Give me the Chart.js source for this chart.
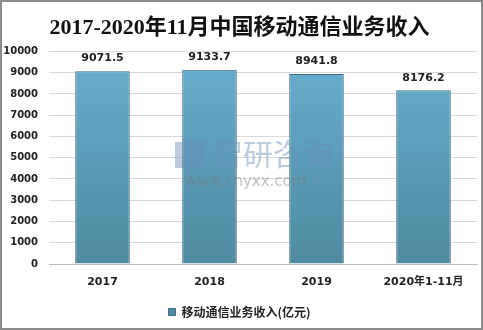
<!DOCTYPE html>
<html><head><meta charset="utf-8">
<script src="https://cdn.jsdelivr.net/npm/chart.js@4"></script>
<style>
html,body{margin:0;padding:0;background:#fff;}
#wrap{position:relative;width:479px;height:326px;border:2px solid #8c8c8c;}
canvas{display:block;}
</style></head><body>
<div id="wrap"><canvas id="c" width="479" height="326"></canvas></div>
<script>
const titleText = '2017-2020年11月中国移动通信业务收入';
const categories = ['2017', '2018', '2019', '2020年1-11月'];
const revenue = [9071.5, 9133.7, 8941.8, 8176.2];
const seriesName = '移动通信业务收入(亿元)';
const yTicks = [0,1000,2000,3000,4000,5000,6000,7000,8000,9000,10000];

const labelPlugin = {
  id: 'labels',
  afterDatasetsDraw(chart) {
    const ctx = chart.ctx;
    const meta = chart.getDatasetMeta(0);
    ctx.save();
    ctx.font = 'bold 11px "DejaVu Sans", sans-serif';
    ctx.fillStyle = '#222';
    ctx.textAlign = 'center';
    ctx.textBaseline = 'bottom';
    meta.data.forEach((bar, i) => {
      ctx.fillText(revenue[i].toFixed(1), bar.x, bar.y - 7);
    });
    ctx.restore();
  }
};
const watermark = {
  id: 'wm',
  afterDatasetsDraw(chart) {
    const ctx = chart.ctx;
    const a = chart.chartArea;
    const cx = (a.left + a.right) / 2;
    ctx.save();
    ctx.globalAlpha = 0.45;
    ctx.fillStyle = '#6a8fb8';
    ctx.font = '30px "Noto Sans CJK SC", sans-serif';
    ctx.textAlign = 'left';
    ctx.textBaseline = 'middle';
    ctx.fillText('智研咨询', cx - 50, 152);
    ctx.fillRect(cx - 88, 140, 30, 26);
    ctx.fillStyle = '#777';
    ctx.font = '15px "DejaVu Sans", sans-serif';
    ctx.fillText('www.chyxx.com', cx - 78, 180);
    ctx.restore();
  }
};

new Chart(document.getElementById('c'), {
  type: 'bar',
  data: {
    labels: categories,
    datasets: [{
      label: seriesName,
      data: revenue,
      backgroundColor: (c) => {
        const a = c.chart.chartArea;
        if (!a) return '#5b9dbd';
        const g = c.chart.ctx.createLinearGradient(0, a.top, 0, a.bottom);
        g.addColorStop(0, '#69aed0');
        g.addColorStop(1, '#4f8aa0');
        return g;
      },
      borderColor: '#3c6a80',
      borderWidth: 1,
      barPercentage: 0.51,
      categoryPercentage: 1.0
    }]
  },
  options: {
    responsive: false,
    animation: false,
    layout: { padding: { left: 0, right: 4, top: 0, bottom: 0 } },
    plugins: {
      title: {
        display: true, text: titleText, color: '#111',
        font: { family: '"Liberation Serif", "Noto Sans CJK SC", serif', size: 22, weight: 'bold' },
        padding: { top: 13, bottom: 10 }
      },
      legend: {
        position: 'bottom',
        labels: {
          color: '#222', boxWidth: 7, boxHeight: 7,
          font: { family: '"Noto Sans CJK SC", sans-serif', size: 12, weight: 'bold' },
          padding: 1
        }
      },
      tooltip: { enabled: false }
    },
    scales: {
      x: {
        afterFit: (s) => { s.height = 41; },
        grid: { display: false, drawTicks: false },
        border: { color: '#bfbfbf' },
        ticks: { color: '#222', padding: 12, font: { family: '"DejaVu Sans", "Noto Sans CJK SC", sans-serif', size: 11, weight: 'bold' } }
      },
      y: {
        min: 0, max: 10000,
        afterBuildTicks: (s) => { s.ticks = yTicks.map(v => ({ value: v })); },
        afterFit: (s) => { s.width = 47; },
        grid: { color: '#d9d9d9', drawTicks: false },
        border: { display: false },
        ticks: { color: '#222', padding: 11, callback: (v) => String(v), font: { family: '"DejaVu Sans", sans-serif', size: 10, weight: 'bold' } }
      }
    }
  },
  plugins: [labelPlugin, watermark]
});
</script></body></html>
